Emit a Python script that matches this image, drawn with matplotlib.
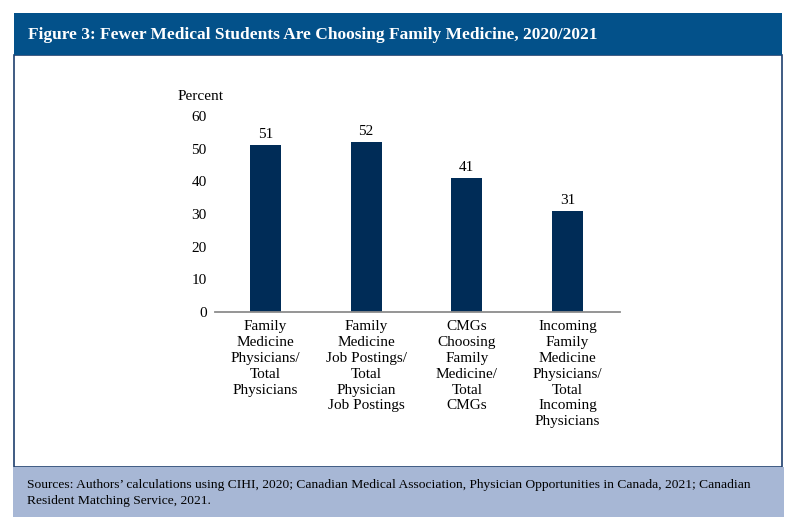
import matplotlib
matplotlib.use("Agg")
import matplotlib.pyplot as plt
from matplotlib.patches import Rectangle

categories = [
    "Family\nMedicine\nPhysicians/\nTotal\nPhysicians",
    "Family\nMedicine\nJob Postings/\nTotal\nPhysician\nJob Postings",
    "CMGs\nChoosing\nFamily\nMedicine/\nTotal\nCMGs",
    "Incoming\nFamily\nMedicine\nPhysicians/\nTotal\nIncoming\nPhysicians",
]
values = [51, 52, 41, 31]
yticks = [0, 10, 20, 30, 40, 50, 60]

title = "Figure 3: Fewer Medical Students Are Choosing Family Medicine, 2020/2021"
source = ("Sources: Authors\u2019 calculations using CIHI, 2020; Canadian Medical Association, Physician Opportunities in Canada, 2021; Canadian\n"
          "Resident Matching Service, 2021.")

W, H = 800, 531
plt.rcParams['font.family'] = ['Liberation Serif', 'DejaVu Serif']
fig = plt.figure(figsize=(W / 100, H / 100), dpi=100)

def px(x, y):
    return x / W, 1 - y / H

header_col = "#03518a"
bar_col = "#002c57"
src_col = "#a7b7d5"
frame_col = "#1f3f6e"

# frame
x0, y0 = px(14, 55)
x1, y1 = px(782, 467)
fig.patches.append(Rectangle((x0, y1), x1 - x0, y0 - y1, transform=fig.transFigure,
                             facecolor="none", edgecolor=frame_col, linewidth=1.2, zorder=0))
# header
hx0, hy0 = px(14, 13)
hx1, hy1 = px(782, 55)
fig.patches.append(Rectangle((hx0, hy1), hx1 - hx0, hy0 - hy1, transform=fig.transFigure,
                             facecolor=header_col, edgecolor="none", zorder=1))
fig.text(px(28, 34)[0], px(28, 35)[1], title, color="white", fontsize=12.5,
         fontweight="bold", va="center", ha="left")
# sources box
sx0, sy0 = px(13, 467)
sx1, sy1 = px(784, 517)
fig.patches.append(Rectangle((sx0, sy1), sx1 - sx0, sy0 - sy1, transform=fig.transFigure,
                             facecolor=src_col, edgecolor="none", zorder=1))
fig.text(px(27, 0)[0], px(0, 493)[1], source, color="black", fontsize=9.7,
         va="center", ha="left", linespacing=1.55)

# axes
ax_l, ax_b = px(215, 312)
ax_r, ax_t = px(620, 116)
ax = fig.add_axes([ax_l, ax_b, ax_r - ax_l, ax_t - ax_b])
ax.set_facecolor("none")
x = list(range(len(values)))
bars = ax.bar(x, values, width=0.31, color=bar_col, zorder=2)
for xi, v in zip(x, values):
    ax.text(xi, v + 1.2, f"{v}", ha="center", va="bottom", fontsize=11)
ax.set_xlim(-0.5, 3.52)
ax.set_ylim(0, 60)
ax.set_yticks(yticks)
ax.set_yticklabels([str(t) for t in yticks], fontsize=11)
ax.set_xticks(x)
ax.set_xticklabels(categories, fontsize=11, linespacing=1.28, va="top")
ax.tick_params(axis="both", length=0)
ax.tick_params(axis="y", pad=6)
ax.tick_params(axis="x", pad=6)
for s in ["top", "right", "left"]:
    ax.spines[s].set_visible(False)
ax.spines["bottom"].set_color("#8c8c8c")
ax.spines["bottom"].set_linewidth(1.3)
fig.text(px(201, 0)[0], px(0, 96)[1], "Percent", ha="center", va="center", fontsize=11)

fig.savefig("out.png", dpi=100)
